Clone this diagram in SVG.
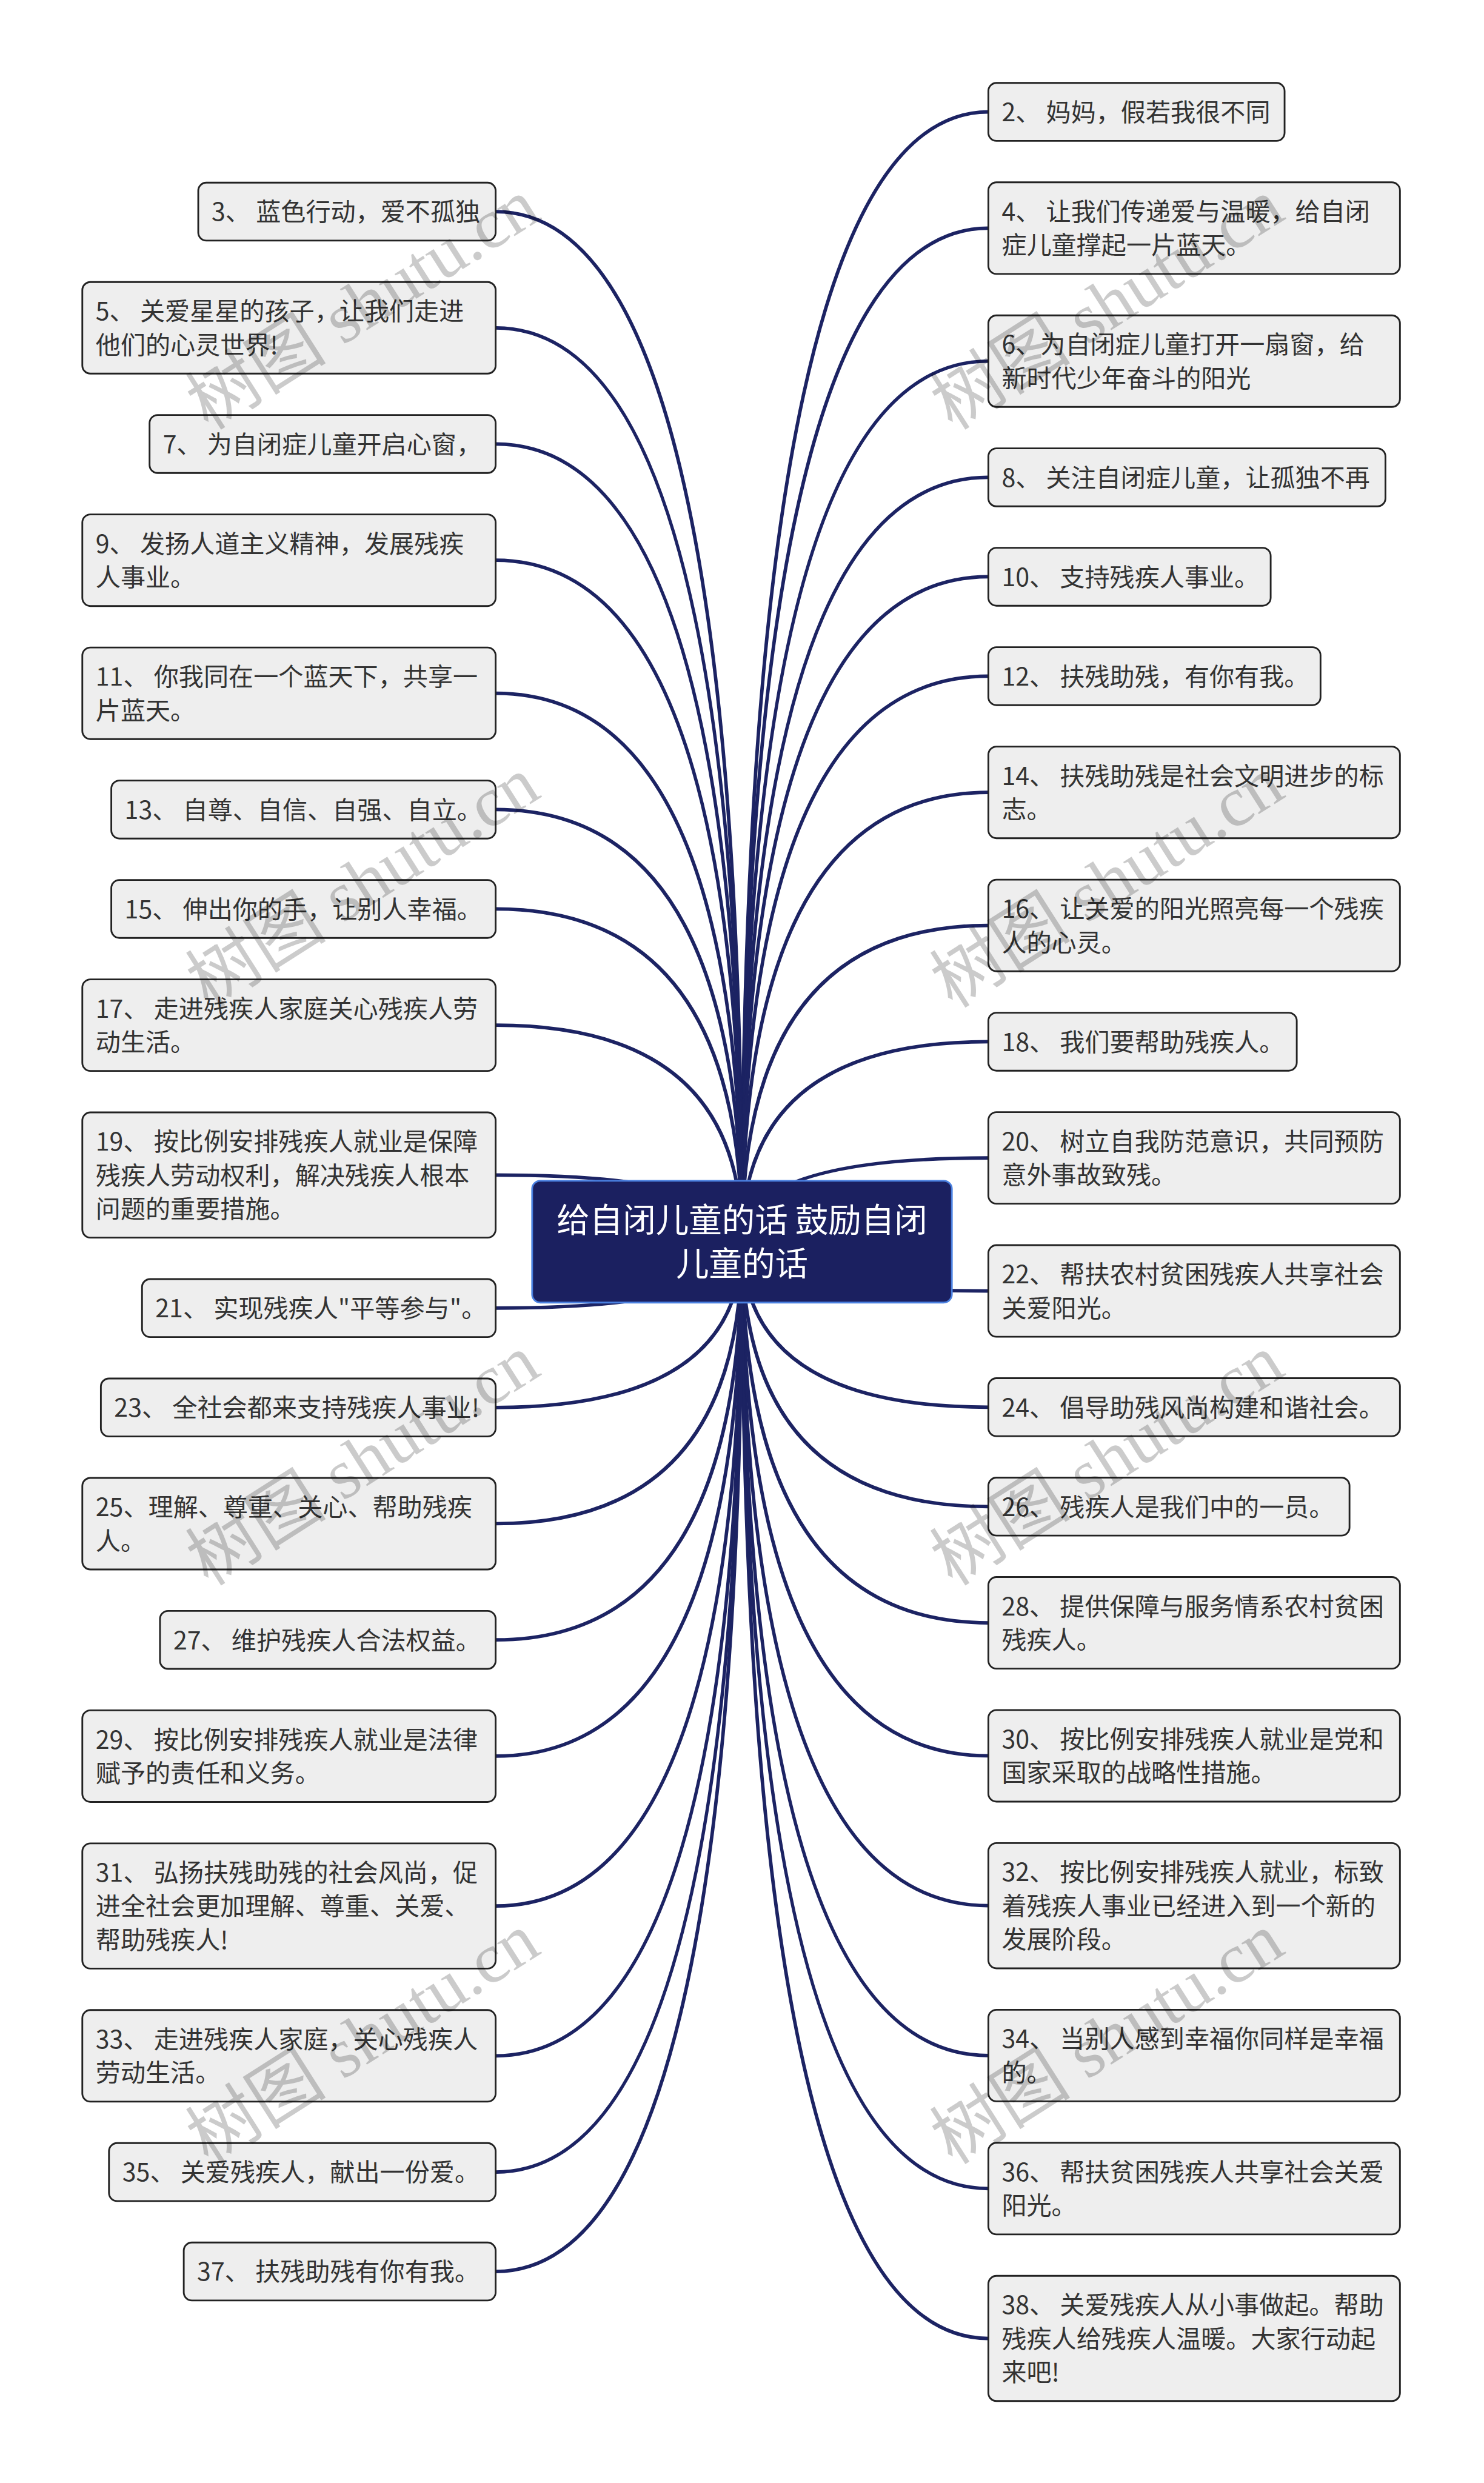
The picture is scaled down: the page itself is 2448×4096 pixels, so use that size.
<svg xmlns="http://www.w3.org/2000/svg" width="2448" height="4096" viewBox="0 0 2448 4096">
<style>
.bx{fill:#eeeeee;stroke:#222222;stroke-width:3}
.t{font-family:"Noto Sans CJK SC","Noto Sans",sans-serif;font-size:43px;fill:#333333}
.ct{font-family:"Noto Sans CJK SC","Noto Sans",sans-serif;font-size:57px;fill:#ffffff;text-anchor:middle}
.cn path{fill:none;stroke:#1c2363;stroke-width:6}
.wm{font-family:"Liberation Serif","Noto Sans CJK SC",serif;font-size:122px;fill:#000000;opacity:0.2;text-anchor:middle}
</style>
<rect width="2448" height="4096" fill="#ffffff"/>
<g transform="scale(0.95625)">
<g class="cn" id="connectors">
<path d="M1280 2142Q1280 193 1705 193"/>
<path d="M1280 2142Q1280 393.5 1705 393.5"/>
<path d="M1280 2142Q1280 623 1705 623"/>
<path d="M1280 2142Q1280 823.5 1705 823.5"/>
<path d="M1280 2142Q1280 995 1705 995"/>
<path d="M1280 2142Q1280 1166.5 1705 1166.5"/>
<path d="M1280 2142Q1280 1367 1705 1367"/>
<path d="M1280 2142Q1280 1596.5 1705 1596.5"/>
<path d="M1280 2142Q1280 1797 1705 1797"/>
<path d="M1280 2142Q1280 1997.5 1705 1997.5"/>
<path d="M1280 2142Q1280 2227 1705 2227"/>
<path d="M1280 2142Q1280 2427.5 1705 2427.5"/>
<path d="M1280 2142Q1280 2599 1705 2599"/>
<path d="M1280 2142Q1280 2799.5 1705 2799.5"/>
<path d="M1280 2142Q1280 3029 1705 3029"/>
<path d="M1280 2142Q1280 3287.5 1705 3287.5"/>
<path d="M1280 2142Q1280 3546 1705 3546"/>
<path d="M1280 2142Q1280 3775.5 1705 3775.5"/>
<path d="M1280 2142Q1280 4034 1705 4034"/>
<path d="M1280 2142Q1280 365 855 365"/>
<path d="M1280 2142Q1280 565.5 855 565.5"/>
<path d="M1280 2142Q1280 766 855 766"/>
<path d="M1280 2142Q1280 966.5 855 966.5"/>
<path d="M1280 2142Q1280 1196 855 1196"/>
<path d="M1280 2142Q1280 1396.5 855 1396.5"/>
<path d="M1280 2142Q1280 1568 855 1568"/>
<path d="M1280 2142Q1280 1768.5 855 1768.5"/>
<path d="M1280 2142Q1280 2027 855 2027"/>
<path d="M1280 2142Q1280 2256.5 855 2256.5"/>
<path d="M1280 2142Q1280 2428 855 2428"/>
<path d="M1280 2142Q1280 2628.5 855 2628.5"/>
<path d="M1280 2142Q1280 2829 855 2829"/>
<path d="M1280 2142Q1280 3029.5 855 3029.5"/>
<path d="M1280 2142Q1280 3288 855 3288"/>
<path d="M1280 2142Q1280 3546.5 855 3546.5"/>
<path d="M1280 2142Q1280 3747 855 3747"/>
<path d="M1280 2142Q1280 3918.5 855 3918.5"/>
</g>
<g id="root">
<rect x="918" y="2037" width="724" height="210" rx="14" fill="#1b2060" stroke="#4a80e0" stroke-width="3"/>
<text class="ct"><tspan x="1280" y="2125">给自闭儿童的话 鼓励自闭</tspan><tspan x="1280" y="2200">儿童的话</tspan></text>
</g>
<g id="n2"><rect class="bx" x="1705" y="143" width="511" height="100" rx="14"/><text class="t" x="1728" y="209">2、 妈妈，假若我很不同</text></g>
<g id="n4"><rect class="bx" x="1705" y="314.5" width="710" height="158" rx="14"/><text class="t"><tspan x="1728" y="380.5">4、 让我们传递爱与温暖，给自闭</tspan><tspan x="1728" dy="58">症儿童撑起一片蓝天。</tspan></text></g>
<g id="n6"><rect class="bx" x="1705" y="544" width="710" height="158" rx="14"/><text class="t"><tspan x="1728" y="610">6、为自闭症儿童打开一扇窗，给</tspan><tspan x="1728" dy="58">新时代少年奋斗的阳光</tspan></text></g>
<g id="n8"><rect class="bx" x="1705" y="773.5" width="685" height="100" rx="14"/><text class="t" x="1728" y="839.5">8、 关注自闭症儿童，让孤独不再</text></g>
<g id="n10"><rect class="bx" x="1705" y="945" width="487" height="100" rx="14"/><text class="t" x="1728" y="1011">10、 支持残疾人事业。</text></g>
<g id="n12"><rect class="bx" x="1705" y="1116.5" width="573" height="100" rx="14"/><text class="t" x="1728" y="1182.5">12、 扶残助残，有你有我。</text></g>
<g id="n14"><rect class="bx" x="1705" y="1288" width="710" height="158" rx="14"/><text class="t"><tspan x="1728" y="1354">14、 扶残助残是社会文明进步的标</tspan><tspan x="1728" dy="58">志。</tspan></text></g>
<g id="n16"><rect class="bx" x="1705" y="1517.5" width="710" height="158" rx="14"/><text class="t"><tspan x="1728" y="1583.5">16、 让关爱的阳光照亮每一个残疾</tspan><tspan x="1728" dy="58">人的心灵。</tspan></text></g>
<g id="n18"><rect class="bx" x="1705" y="1747" width="532" height="100" rx="14"/><text class="t" x="1728" y="1813">18、 我们要帮助残疾人。</text></g>
<g id="n20"><rect class="bx" x="1705" y="1918.5" width="710" height="158" rx="14"/><text class="t"><tspan x="1728" y="1984.5">20、 树立自我防范意识，共同预防</tspan><tspan x="1728" dy="58">意外事故致残。</tspan></text></g>
<g id="n22"><rect class="bx" x="1705" y="2148" width="710" height="158" rx="14"/><text class="t"><tspan x="1728" y="2214">22、 帮扶农村贫困残疾人共享社会</tspan><tspan x="1728" dy="58">关爱阳光。</tspan></text></g>
<g id="n24"><rect class="bx" x="1705" y="2377.5" width="710" height="100" rx="14"/><text class="t" x="1728" y="2443.5">24、 倡导助残风尚构建和谐社会。</text></g>
<g id="n26"><rect class="bx" x="1705" y="2549" width="623" height="100" rx="14"/><text class="t" x="1728" y="2615">26、 残疾人是我们中的一员。</text></g>
<g id="n28"><rect class="bx" x="1705" y="2720.5" width="710" height="158" rx="14"/><text class="t"><tspan x="1728" y="2786.5">28、 提供保障与服务情系农村贫困</tspan><tspan x="1728" dy="58">残疾人。</tspan></text></g>
<g id="n30"><rect class="bx" x="1705" y="2950" width="710" height="158" rx="14"/><text class="t"><tspan x="1728" y="3016">30、 按比例安排残疾人就业是党和</tspan><tspan x="1728" dy="58">国家采取的战略性措施。</tspan></text></g>
<g id="n32"><rect class="bx" x="1705" y="3179.5" width="710" height="216" rx="14"/><text class="t"><tspan x="1728" y="3245.5">32、 按比例安排残疾人就业，标致</tspan><tspan x="1728" dy="58">着残疾人事业已经进入到一个新的</tspan><tspan x="1728" dy="58">发展阶段。</tspan></text></g>
<g id="n34"><rect class="bx" x="1705" y="3467" width="710" height="158" rx="14"/><text class="t"><tspan x="1728" y="3533">34、 当别人感到幸福你同样是幸福</tspan><tspan x="1728" dy="58">的。</tspan></text></g>
<g id="n36"><rect class="bx" x="1705" y="3696.5" width="710" height="158" rx="14"/><text class="t"><tspan x="1728" y="3762.5">36、 帮扶贫困残疾人共享社会关爱</tspan><tspan x="1728" dy="58">阳光。</tspan></text></g>
<g id="n38"><rect class="bx" x="1705" y="3926" width="710" height="216" rx="14"/><text class="t"><tspan x="1728" y="3992">38、 关爱残疾人从小事做起。帮助</tspan><tspan x="1728" dy="58">残疾人给残疾人温暖。大家行动起</tspan><tspan x="1728" dy="58">来吧!</tspan></text></g>
<g id="n3"><rect class="bx" x="342" y="315" width="513" height="100" rx="14"/><text class="t" x="365" y="381">3、 蓝色行动，爱不孤独</text></g>
<g id="n5"><rect class="bx" x="142" y="486.5" width="713" height="158" rx="14"/><text class="t"><tspan x="165" y="552.5">5、 关爱星星的孩子，让我们走进</tspan><tspan x="165" dy="58">他们的心灵世界!</tspan></text></g>
<g id="n7"><rect class="bx" x="258" y="716" width="597" height="100" rx="14"/><text class="t" x="281" y="782">7、 为自闭症儿童开启心窗，</text></g>
<g id="n9"><rect class="bx" x="142" y="887.5" width="713" height="158" rx="14"/><text class="t"><tspan x="165" y="953.5">9、 发扬人道主义精神，发展残疾</tspan><tspan x="165" dy="58">人事业。</tspan></text></g>
<g id="n11"><rect class="bx" x="142" y="1117" width="713" height="158" rx="14"/><text class="t"><tspan x="165" y="1183">11、 你我同在一个蓝天下，共享一</tspan><tspan x="165" dy="58">片蓝天。</tspan></text></g>
<g id="n13"><rect class="bx" x="192" y="1346.5" width="663" height="100" rx="14"/><text class="t" x="215" y="1412.5">13、 自尊、自信、自强、自立。</text></g>
<g id="n15"><rect class="bx" x="192" y="1518" width="663" height="100" rx="14"/><text class="t" x="215" y="1584">15、 伸出你的手，让别人幸福。</text></g>
<g id="n17"><rect class="bx" x="142" y="1689.5" width="713" height="158" rx="14"/><text class="t"><tspan x="165" y="1755.5">17、 走进残疾人家庭关心残疾人劳</tspan><tspan x="165" dy="58">动生活。</tspan></text></g>
<g id="n19"><rect class="bx" x="142" y="1919" width="713" height="216" rx="14"/><text class="t"><tspan x="165" y="1985">19、 按比例安排残疾人就业是保障</tspan><tspan x="165" dy="58">残疾人劳动权利，解决残疾人根本</tspan><tspan x="165" dy="58">问题的重要措施。</tspan></text></g>
<g id="n21"><rect class="bx" x="245" y="2206.5" width="610" height="100" rx="14"/><text class="t" x="268" y="2272.5">21、 实现残疾人"平等参与"。</text></g>
<g id="n23"><rect class="bx" x="174" y="2378" width="681" height="100" rx="14"/><text class="t" x="197" y="2444">23、 全社会都来支持残疾人事业!</text></g>
<g id="n25"><rect class="bx" x="142" y="2549.5" width="713" height="158" rx="14"/><text class="t"><tspan x="165" y="2615.5">25、理解、尊重、关心、帮助残疾</tspan><tspan x="165" dy="58">人。</tspan></text></g>
<g id="n27"><rect class="bx" x="276" y="2779" width="579" height="100" rx="14"/><text class="t" x="299" y="2845">27、 维护残疾人合法权益。</text></g>
<g id="n29"><rect class="bx" x="142" y="2950.5" width="713" height="158" rx="14"/><text class="t"><tspan x="165" y="3016.5">29、 按比例安排残疾人就业是法律</tspan><tspan x="165" dy="58">赋予的责任和义务。</tspan></text></g>
<g id="n31"><rect class="bx" x="142" y="3180" width="713" height="216" rx="14"/><text class="t"><tspan x="165" y="3246">31、 弘扬扶残助残的社会风尚，促</tspan><tspan x="165" dy="58">进全社会更加理解、尊重、关爱、</tspan><tspan x="165" dy="58">帮助残疾人!</tspan></text></g>
<g id="n33"><rect class="bx" x="142" y="3467.5" width="713" height="158" rx="14"/><text class="t"><tspan x="165" y="3533.5">33、 走进残疾人家庭，关心残疾人</tspan><tspan x="165" dy="58">劳动生活。</tspan></text></g>
<g id="n35"><rect class="bx" x="188" y="3697" width="667" height="100" rx="14"/><text class="t" x="211" y="3763">35、 关爱残疾人，献出一份爱。</text></g>
<g id="n37"><rect class="bx" x="317" y="3868.5" width="538" height="100" rx="14"/><text class="t" x="340" y="3934.5">37、 扶残助残有你有我。</text></g>
<g id="watermarks">
<text class="wm" transform="translate(648 560) rotate(-32.5)">树图 shutu.cn</text>
<text class="wm" transform="translate(648 1557) rotate(-32.5)">树图 shutu.cn</text>
<text class="wm" transform="translate(648 2554) rotate(-32.5)">树图 shutu.cn</text>
<text class="wm" transform="translate(648 3552) rotate(-32.5)">树图 shutu.cn</text>
<text class="wm" transform="translate(1932 560) rotate(-32.5)">树图 shutu.cn</text>
<text class="wm" transform="translate(1932 1557) rotate(-32.5)">树图 shutu.cn</text>
<text class="wm" transform="translate(1932 2554) rotate(-32.5)">树图 shutu.cn</text>
<text class="wm" transform="translate(1932 3552) rotate(-32.5)">树图 shutu.cn</text>
</g>
</g>
</svg>
